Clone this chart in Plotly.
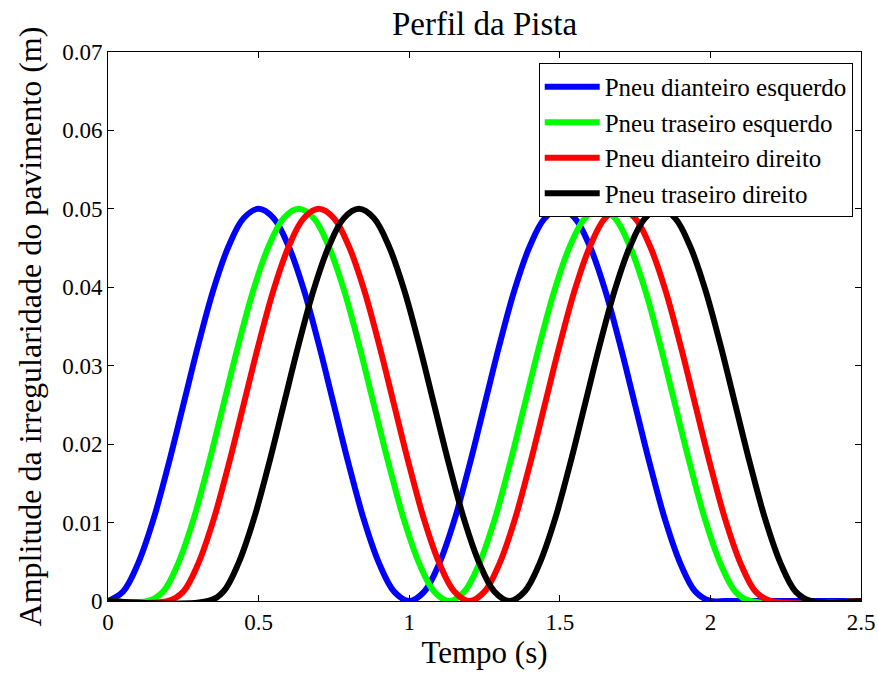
import plotly.graph_objects as go

# Time axis (s) and amplitude (m)
t_blue = [0.00, 0.05, 0.10, 0.15, 0.20, 0.25, 0.30, 0.35, 0.40, 0.45, 0.50,
          0.55, 0.60, 0.65, 0.70, 0.75, 0.80, 0.85, 0.90, 0.95, 1.00,
          1.05, 1.10, 1.15, 1.20, 1.25, 1.30, 1.35, 1.40, 1.45, 1.50,
          1.55, 1.60, 1.65, 1.70, 1.75, 1.80, 1.85, 1.90, 1.95, 2.00,
          2.05, 2.10, 2.15, 2.20, 2.25, 2.30, 2.35, 2.40, 2.45, 2.50]
y_blue = [0, 0.0012, 0.0048, 0.0103, 0.0173, 0.025, 0.0327, 0.0397, 0.0452, 0.0488, 0.05,
          0.0488, 0.0452, 0.0397, 0.0327, 0.025, 0.0173, 0.0103, 0.0048, 0.0012, 0,
          0.0012, 0.0048, 0.0103, 0.0173, 0.025, 0.0327, 0.0397, 0.0452, 0.0488, 0.05,
          0.0488, 0.0452, 0.0397, 0.0327, 0.025, 0.0173, 0.0103, 0.0048, 0.0012, 0,
          0, 0, 0, 0, 0, 0, 0, 0, 0, 0]

t_green = [0.000, 0.133, 0.183, 0.233, 0.283, 0.333, 0.383, 0.433, 0.483, 0.533, 0.583,
           0.633, 0.683, 0.733, 0.783, 0.833, 0.883, 0.933, 0.983, 1.033, 1.083,
           1.133, 1.183, 1.233, 1.283, 1.333, 1.383, 1.433, 1.483, 1.533, 1.583,
           1.633, 1.683, 1.733, 1.783, 1.833, 1.883, 1.933, 1.983, 2.033, 2.083,
           2.133, 2.500]
y_green = [0, 0, 0.0012, 0.0048, 0.0103, 0.0173, 0.025, 0.0327, 0.0397, 0.0452, 0.0488,
           0.05, 0.0488, 0.0452, 0.0397, 0.0327, 0.025, 0.0173, 0.0103, 0.0048, 0.0012,
           0, 0.0012, 0.0048, 0.0103, 0.0173, 0.025, 0.0327, 0.0397, 0.0452, 0.0488,
           0.05, 0.0488, 0.0452, 0.0397, 0.0327, 0.025, 0.0173, 0.0103, 0.0048, 0.0012,
           0, 0]

t_red = [0.00, 0.20, 0.25, 0.30, 0.35, 0.40, 0.45, 0.50, 0.55, 0.60, 0.65,
         0.70, 0.75, 0.80, 0.85, 0.90, 0.95, 1.00, 1.05, 1.10, 1.15,
         1.20, 1.25, 1.30, 1.35, 1.40, 1.45, 1.50, 1.55, 1.60, 1.65,
         1.70, 1.75, 1.80, 1.85, 1.90, 1.95, 2.00, 2.05, 2.10, 2.15,
         2.20, 2.50]
y_red = [0, 0, 0.0012, 0.0048, 0.0103, 0.0173, 0.025, 0.0327, 0.0397, 0.0452, 0.0488,
         0.05, 0.0488, 0.0452, 0.0397, 0.0327, 0.025, 0.0173, 0.0103, 0.0048, 0.0012,
         0, 0.0012, 0.0048, 0.0103, 0.0173, 0.025, 0.0327, 0.0397, 0.0452, 0.0488,
         0.05, 0.0488, 0.0452, 0.0397, 0.0327, 0.025, 0.0173, 0.0103, 0.0048, 0.0012,
         0, 0]

t_black = [0.000, 0.333, 0.383, 0.433, 0.483, 0.533, 0.583, 0.633, 0.683, 0.733, 0.783,
           0.833, 0.883, 0.933, 0.983, 1.033, 1.083, 1.133, 1.183, 1.233, 1.283,
           1.333, 1.383, 1.433, 1.483, 1.533, 1.583, 1.633, 1.683, 1.733, 1.783,
           1.833, 1.883, 1.933, 1.983, 2.033, 2.083, 2.133, 2.183, 2.233, 2.283,
           2.333, 2.500]
y_black = [0, 0, 0.0012, 0.0048, 0.0103, 0.0173, 0.025, 0.0327, 0.0397, 0.0452, 0.0488,
           0.05, 0.0488, 0.0452, 0.0397, 0.0327, 0.025, 0.0173, 0.0103, 0.0048, 0.0012,
           0, 0.0012, 0.0048, 0.0103, 0.0173, 0.025, 0.0327, 0.0397, 0.0452, 0.0488,
           0.05, 0.0488, 0.0452, 0.0397, 0.0327, 0.025, 0.0173, 0.0103, 0.0048, 0.0012,
           0, 0]

series_names = ["Pneu dianteiro esquerdo", "Pneu traseiro esquerdo",
                "Pneu dianteiro direito", "Pneu traseiro direito"]
series_colors = ["#0000FF", "#00FF00", "#FF0000", "#000000"]

x_tickvals = [0, 0.5, 1, 1.5, 2, 2.5]
x_ticktext = ["0", "0.5", "1", "1.5", "2", "2.5"]
y_tickvals = [0, 0.01, 0.02, 0.03, 0.04, 0.05, 0.06, 0.07]
y_ticktext = ["0", "0.01", "0.02", "0.03", "0.04", "0.05", "0.06", "0.07"]

FONT = "Liberation Serif"

fig = go.Figure()
for t, y, name, color in zip([t_blue, t_green, t_red, t_black],
                             [y_blue, y_green, y_red, y_black],
                             series_names, series_colors):
    fig.add_trace(go.Scatter(x=t, y=y, mode="lines", name=name,
                             line=dict(color=color, width=6, shape="spline", smoothing=1.0)))

fig.update_layout(
    width=878, height=673,
    margin=dict(l=108, r=17, t=52, b=72),
    paper_bgcolor="white", plot_bgcolor="white",
    font=dict(family=FONT, color="black", size=22),
    title=dict(text="Perfil da Pista", font=dict(family=FONT, size=33, color="black"),
               x=0.5, xanchor="center", xref="paper",
               y=0.965, yanchor="middle", yref="container"),
    legend=dict(x=0.989, xanchor="right", y=0.98, yanchor="top",
                bgcolor="white", bordercolor="black", borderwidth=1,
                font=dict(family=FONT, size=25, color="black"),
                itemwidth=55, tracegroupgap=0),
    showlegend=True,
)
fig.update_xaxes(range=[0, 2.5], tickvals=x_tickvals, ticktext=x_ticktext, automargin=False,
                 showline=True, mirror="ticks", linecolor="black", linewidth=1,
                 ticks="inside", ticklen=6, tickcolor="black", showgrid=False, zeroline=False,
                 tickfont=dict(family=FONT, size=23, color="black"),
                 title=dict(text="Tempo (s)", font=dict(family=FONT, size=31, color="black"), standoff=6))
fig.update_yaxes(range=[0, 0.07], tickvals=y_tickvals, ticktext=y_ticktext, automargin=False,
                 showline=True, mirror="ticks", linecolor="black", linewidth=1,
                 ticks="inside", ticklen=6, tickcolor="black", showgrid=False, zeroline=False,
                 tickfont=dict(family=FONT, size=23, color="black"),
                 title=dict(text="Amplitude da irregularidade do pavimento (m)",
                            font=dict(family=FONT, size=32, color="black"), standoff=10))

fig.write_html("out.html")
